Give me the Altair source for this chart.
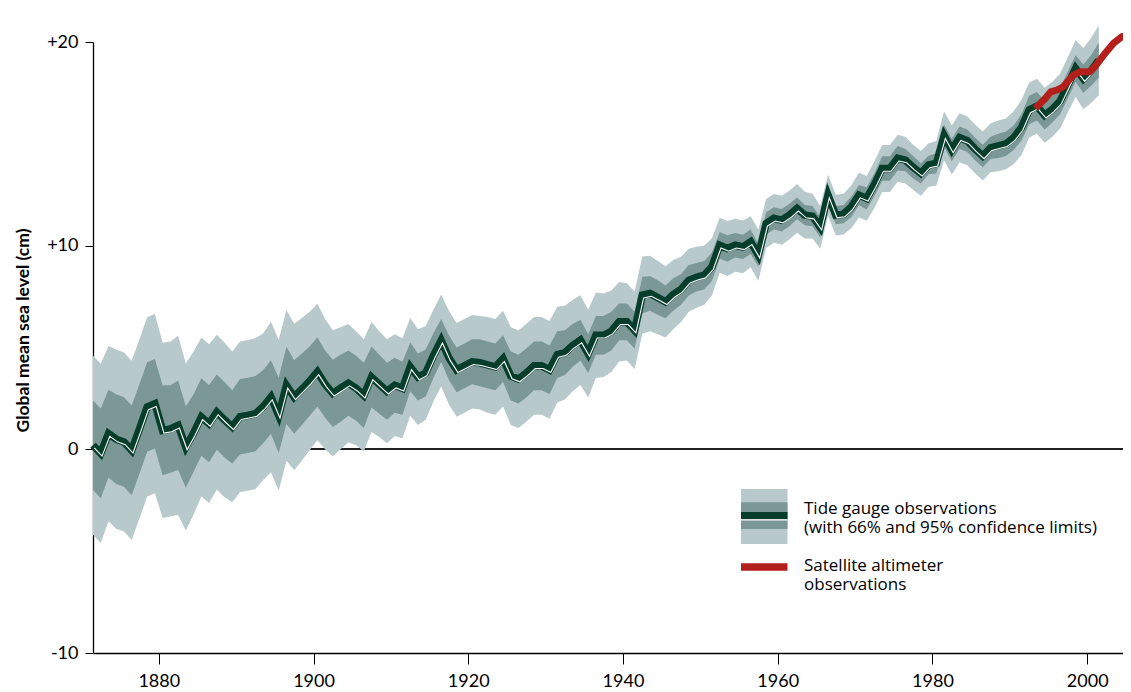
import altair as alt
import pandas as pd

# ---------------- data ----------------
years = list(range(1871, 2002))

mean_cm = [
    0.2, -0.2, 0.77, 0.5, 0.36, -0.05, 1.0, 2.08, 2.24, 0.93,          # 1871-1880
    1.0, 1.18, 0.11, 0.8, 1.59, 1.26, 1.83, 1.45, 1.1, 1.6,            # 1881-1890
    1.67, 1.75, 2.1, 2.57, 1.67, 3.14, 2.57, 2.95, 3.35, 3.8,          # 1891-1900
    3.2, 2.75, 3.0, 3.25, 3.0, 2.65, 3.55, 3.2, 2.85, 3.15,            # 1901-1910
    3.0, 4.05, 3.55, 3.75, 4.6, 5.35, 4.5, 3.9, 4.1, 4.3,              # 1911-1920
    4.25, 4.15, 4.05, 4.45, 3.6, 3.45, 3.75, 4.1, 4.1, 3.9,            # 1921-1930
    4.65, 4.75, 5.1, 5.36, 4.7, 5.6, 5.6, 5.8, 6.26, 6.26,             # 1931-1940
    5.85, 7.57, 7.65, 7.45, 7.24, 7.6, 7.85, 8.3, 8.45, 8.55,          # 1941-1950
    8.96, 10.02, 9.86, 10.02, 9.94, 10.19, 9.53, 11.09, 11.34, 11.25,  # 1951-1960
    11.5, 11.83, 11.5, 11.45, 10.9, 12.48, 11.5, 11.55, 11.9, 12.48,   # 1961-1970
    12.32, 13.0, 13.79, 13.79, 14.29, 14.2, 13.85, 13.55, 13.96, 14.04,  # 1971-1980
    15.4, 14.7, 15.3, 15.15, 14.75, 14.4, 14.8, 14.9, 15.0, 15.3,      # 1981-1990
    15.8, 16.66, 16.85, 16.4, 16.7, 17.1, 17.9, 18.7, 18.2, 18.6,      # 1991-2000
    19.1,                                                              # 2001
]

half66 = [
    2.2, 2.2, 2.15, 2.2, 2.2, 2.2, 2.2, 2.2, 2.2, 2.2,
    2.15, 2.2, 2.0, 1.9, 1.9, 1.9, 1.85, 1.85, 1.8, 1.85,
    1.85, 1.85, 1.8, 1.8, 1.85, 1.9, 1.8, 1.75, 1.7, 1.7,
    1.65, 1.65, 1.65, 1.6, 1.6, 1.6, 1.5, 1.45, 1.4, 1.35,
    1.3, 1.2, 1.15, 1.15, 1.1, 1.05, 1.1, 1.1, 1.1, 1.1,
    1.15, 1.15, 1.15, 1.15, 1.2, 1.2, 1.2, 1.2, 1.2, 1.2,
    1.15, 1.1, 1.05, 1.0, 0.95, 0.95, 0.95, 0.95, 0.9, 0.9,
    0.9, 0.9, 0.85, 0.85, 0.8, 0.8, 0.75, 0.75, 0.7, 0.7,
    0.7, 0.65, 0.65, 0.6, 0.6, 0.6, 0.55, 0.55, 0.55, 0.55,
    0.55, 0.53, 0.5, 0.5, 0.5, 0.45, 0.45, 0.45, 0.5, 0.5,
    0.55, 0.55, 0.6, 0.6, 0.6, 0.55, 0.55, 0.5, 0.45, 0.5,
    0.55, 0.55, 0.55, 0.55, 0.55, 0.55, 0.55, 0.6, 0.6, 0.6,
    0.65, 0.7, 0.7, 0.7, 0.65, 0.65, 0.65, 0.65, 0.7, 0.75,
    0.86,
]

half95 = [
    4.4, 4.4, 4.3, 4.4, 4.4, 4.4, 4.4, 4.4, 4.4, 4.3,
    4.3, 4.4, 4.1, 4.0, 3.9, 3.9, 3.8, 3.8, 3.7, 3.7,
    3.7, 3.7, 3.6, 3.7, 3.7, 3.7, 3.6, 3.5, 3.4, 3.35,
    3.2, 3.1, 3.0, 2.9, 2.8, 2.75, 2.7, 2.6, 2.55, 2.5,
    2.45, 2.4, 2.35, 2.3, 2.25, 2.25, 2.3, 2.3, 2.3, 2.3,
    2.3, 2.35, 2.35, 2.35, 2.4, 2.4, 2.4, 2.4, 2.4, 2.4,
    2.35, 2.3, 2.25, 2.2, 2.15, 2.1, 2.05, 2.0, 1.95, 1.9,
    1.9, 1.9, 1.85, 1.8, 1.75, 1.7, 1.6, 1.55, 1.5, 1.45,
    1.4, 1.35, 1.35, 1.3, 1.3, 1.25, 1.25, 1.2, 1.2, 1.2,
    1.2, 1.2, 1.15, 1.1, 1.05, 1.0, 1.0, 1.0, 1.05, 1.1,
    1.1, 1.15, 1.15, 1.15, 1.15, 1.15, 1.1, 1.1, 1.07, 1.1,
    1.2, 1.2, 1.2, 1.2, 1.2, 1.2, 1.2, 1.25, 1.25, 1.3,
    1.35, 1.35, 1.35, 1.35, 1.35, 1.35, 1.35, 1.4, 1.5, 1.6,
    1.72,
]

sat_time = [1993.3, 1994.5, 1995.3, 1996.1, 1996.9, 1998.2, 1999.1, 2000.3,
            2001.0, 2002.3, 2003.4, 2004.5, 2005.1, 2005.9]
sat_cm = [16.74, 17.2, 17.55, 17.64, 17.8, 18.38, 18.54, 18.54,
          18.79, 19.44, 19.94, 20.26, 20.34, 20.8]

x_ticks = [1880, 1900, 1920, 1940, 1960, 1980, 2000]
y_ticks = [-10, 0, 10, 20]

legend_lines = ["Tide gauge observations", "(with 66% and 95% confidence limits)",
                "Satellite altimeter", "observations"]

# ---------------- styling ----------------
FONT = "Lato"
LEG_FONT = "Open Sans"
LIGHT = "#b7c9cb"
MID = "#7b9896"
DARK = "#063d2b"
RED = "#b3201b"

PX_PER_YEAR = 7.737
W, H = 1030, 611
X0 = 1871.5

tide = pd.DataFrame({"year": years, "mean": mean_cm, "h66": half66, "h95": half95})
sat = pd.DataFrame({"t": sat_time, "v": sat_cm})
one = pd.DataFrame({"k": [0]})

xs = alt.Scale(domain=[X0, X0 + W / PX_PER_YEAR], nice=False, zero=False)
ys = alt.Scale(domain=[-10, 20], nice=False, zero=False)

x_axis = alt.Axis(values=x_ticks, format="d", title=None, grid=False,
                  tickSize=11, tickColor="black", tickWidth=1,
                  domainColor="black", domainWidth=1.5,
                  labelFont=FONT, labelFontSize=18, labelColor="black",
                  labelPadding=8, labelFlush=False)
y_axis = alt.Axis(values=y_ticks, grid=False,
                  labelExpr="datum.value > 0 ? '+' + datum.value : '' + datum.value",
                  tickSize=8, tickColor="black", tickWidth=1,
                  domainColor="black", domainWidth=1.3,
                  labelFont=FONT, labelFontSize=18, labelColor="black",
                  labelPadding=7,
                  title="Global mean sea level (cm)", titleFont=FONT,
                  titleFontSize=17.5, titleFontWeight="bold", titleColor="black",
                  titleAngle=-90, titleX=-65, titleY=288,
                  titleBaseline="alphabetic", titleAlign="center")

X = lambda f: alt.X(f, type="quantitative", scale=xs, axis=x_axis, title=None)
Y = lambda f: alt.Y(f, type="quantitative", scale=ys, axis=y_axis,
                    title="Global mean sea level (cm)")

base = alt.Chart(tide).transform_calculate(
    t="datum.year + 0.5",
    lo95="datum.mean - datum.h95",
    hi95="datum.mean + datum.h95",
    lo66="datum.mean - datum.h66",
    hi66="datum.mean + datum.h66",
)

zero_rule = base.mark_rule(color="#222222", strokeWidth=1.2).encode(
    x=alt.datum(X0, scale=xs, axis=x_axis),
    x2=alt.datum(X0 + W / PX_PER_YEAR),
    y=alt.datum(0, scale=ys, axis=y_axis),
)

band95 = base.mark_area(color=LIGHT, opacity=1).encode(
    x=X("t"), y=Y("lo95"), y2="hi95:Q",
)
band66 = base.mark_area(color=MID, opacity=1).encode(
    x=X("t"), y=Y("lo66"), y2="hi66:Q",
)
dark_line = base.mark_line(color=DARK, strokeWidth=7.5).encode(
    x=X("t"), y=Y("mean"),
)
white_line = base.mark_line(color="white", strokeWidth=1.1,
                            xOffset=1.3, yOffset=2.7).encode(
    x=X("t"), y=Y("mean"),
)
red_line = alt.Chart(sat).mark_line(color=RED, strokeWidth=7, strokeCap="butt").encode(
    x=X("t"), y=Y("v"),
)

# ---------------- legend (drawn by hand) ----------------
LX0, LX1 = 648, 694.5


def rect(y0, y1, color):
    return alt.Chart(one).mark_rect(color=color).encode(
        x=alt.value(LX0), x2=alt.value(LX1), y=alt.value(y0), y2=alt.value(y1)
    )


def label(txt, ybase):
    return alt.Chart(one).mark_text(
        text=txt, font=LEG_FONT, fontSize=17, color="black",
        align="left", baseline="alphabetic"
    ).encode(x=alt.value(711), y=alt.value(ybase))


legend = [
    rect(447, 502, LIGHT),
    rect(460.3, 487, MID),
    rect(470, 477.3, DARK),
    rect(477.3, 478.4, "white"),
    rect(521.3, 528.7, RED),
    label(legend_lines[0], 471.5),
    label(legend_lines[1], 490.5),
    label(legend_lines[2], 528.5),
    label(legend_lines[3], 547.5),
]

chart = alt.layer(
    zero_rule, band95, band66, dark_line, white_line, red_line, *legend
).properties(
    width=W, height=H,
    autosize=alt.AutoSizeParams(type="none"),
    padding={"left": 85, "top": 34, "right": 0, "bottom": 44},
    background="white",
).configure_view(stroke=None)

chart.save("out.html", embed_options={"renderer": "svg", "actions": False})
